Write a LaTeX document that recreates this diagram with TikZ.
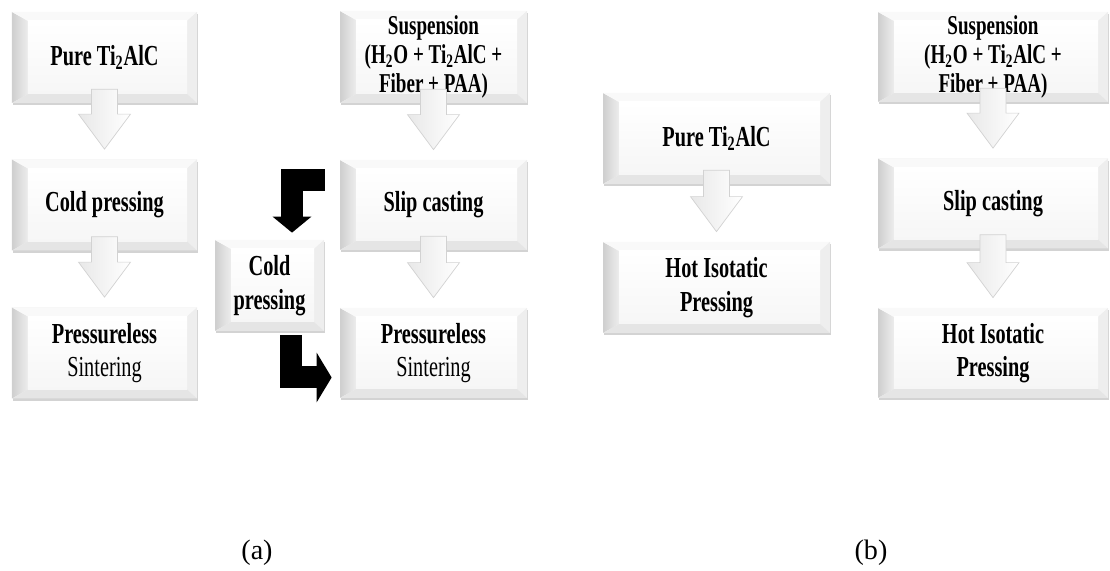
\documentclass[tikz,border=0pt]{standalone}
\usepackage{fontspec}
\setmainfont{Liberation Serif}
\newfontfamily\stagefont{Liberation Serif}[FakeStretch=0.70]
\usetikzlibrary{arrows.meta,calc,shadows}

\tikzset{
  stage/.style={rectangle, minimum width=37mm, minimum height=18.2mm,
    inner sep=0pt, align=center, fill=gray!8,
    drop shadow={shadow xshift=0.6pt, shadow yshift=-1.2pt, opacity=0.35},
    font=\stagefont\bfseries\fontsize{16.5}{19}\selectfont,
    path picture={
      \coordinate (nw) at (path picture bounding box.north west);
      \coordinate (se) at (path picture bounding box.south east);
      \coordinate (inw) at ($(nw)+(3.2mm,-1.8mm)$);
      \coordinate (ise) at ($(se)+(-2mm,1.8mm)$);
      \shade[left color=gray!38, right color=gray!14]
        (nw) -- (inw) -- (inw|-ise) -- (nw|-se) -- cycle;
      \fill[gray!5] (nw) -- (se|-nw) -- (ise|-inw) -- (inw) -- cycle;
      \fill[gray!13] (se|-nw) -- (se) -- (ise) -- (ise|-inw) -- cycle;
      \fill[gray!20] (nw|-se) -- (se) -- (ise) -- (inw|-ise) -- cycle;
      \shade[top color=white, bottom color=gray!7] (inw) rectangle (ise);
    }},
  suspension/.style={font=\stagefont\bfseries\fontsize{15.5}{16.5}\selectfont},
  whitearr/.style={draw=gray!35, line width=0.4pt, left color=gray!18,
    right color=white, line join=miter},
  blackarr/.style={line width=4.4mm, line join=miter, black},
  caption/.style={font=\fontsize{16}{18}\selectfont}
}

% fat down arrow from one stage to the next
\newcommand{\stagearrow}[2]{%
  \draw[whitearr] ($(#1.south)+(-13,14)$) -- ($(#1.south)+(13,14)$)
    -- ($(#2.north)+(13,45)$) -- ($(#2.north)+(26,45)$)
    -- ($(#2.north)+(0,10)$) -- ($(#2.north)+(-26,45)$)
    -- ($(#2.north)+(-13,45)$) -- cycle;}

\begin{document}
\begin{tikzpicture}[x=0.2mm, y=0.2mm]
  \useasboundingbox (0,0) rectangle (1110,571);

  % (a) pressureless sintering
  \node[stage] (A1) at (104.5,513.5) {Pure Ti\textsubscript{2}AlC};
  \node[stage] (A2) at (104.5,366) {Cold pressing};
  \node[stage] (A3) at (104.5,218) {Pressureless\\\mdseries Sintering};

  \node[stage, suspension, minimum width=37.4mm, minimum height=18.4mm] (B1) at (433.5,514)
    {Suspension\\(H\textsubscript{2}O + Ti\textsubscript{2}AlC +\\Fiber + PAA)};
  \node[stage, minimum width=37.4mm, minimum height=18mm] (B2) at (433.5,366) {Slip casting};
  \node[stage, minimum width=37.4mm, minimum height=18mm] (B3) at (433.5,218)
    {Pressureless\\\mdseries Sintering};
  \node[stage, minimum width=21.8mm] (CP) at (269.5,285.5) {Cold\\pressing};

  % (b) hot isostatic pressing
  \node[stage, minimum width=45.4mm] (C1) at (716.5,432.5) {Pure Ti\textsubscript{2}AlC};
  \node[stage, minimum width=45.4mm] (C2) at (716.5,283.5) {Hot Isotatic\\Pressing};

  \node[stage, suspension, minimum width=46mm, minimum height=18mm] (D1) at (993,514)
    {Suspension\\(H\textsubscript{2}O + Ti\textsubscript{2}AlC +\\Fiber + PAA)};
  \node[stage, minimum width=46mm, minimum height=18mm] (D2) at (993,367.5) {Slip casting};
  \node[stage, minimum width=46mm, minimum height=18mm] (D3) at (993,218)
    {Hot Isotatic\\Pressing};

  \stagearrow{A1}{A2}
  \stagearrow{A2}{A3}
  \stagearrow{B1}{B2}
  \stagearrow{B2}{B3}
  \stagearrow{C1}{C2}
  \stagearrow{D1}{D2}
  \stagearrow{D2}{D3}

  % side route through cold pressing
  \draw[blackarr, -{Triangle[length=3.2mm, width=7.6mm]}]
    ([shift={(-15,24.5)}]B2.west) -| ([shift={(22.5,7)}]CP.north);
  \draw[blackarr, -{Triangle[length=3mm, width=9.8mm]}]
    ([shift={(21.5,-4)}]CP.south) |- ([shift={(-8,-24.5)}]B3.west);

  \node[caption] (capA) at (257,18) {(a)};
  \node[caption] (capB) at (871,18) {(b)};
\end{tikzpicture}
\end{document}
